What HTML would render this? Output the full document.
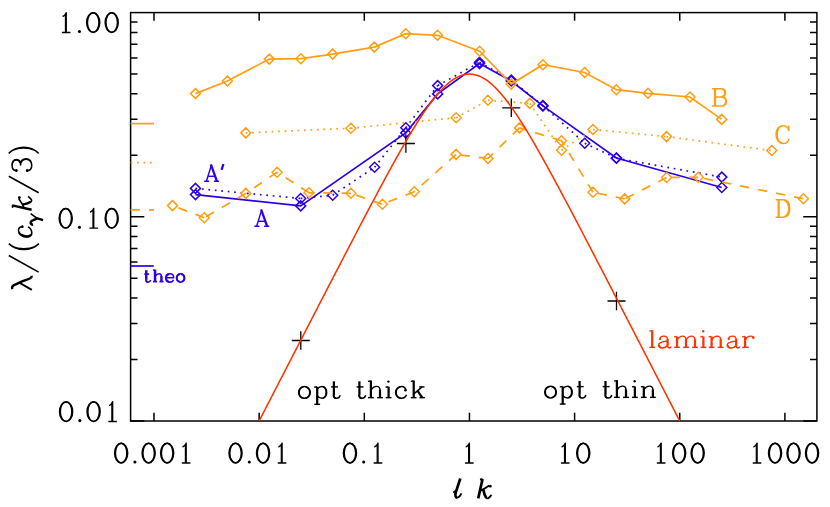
<!DOCTYPE html>
<html><head><meta charset="utf-8"><title>plot</title>
<style>
html,body{margin:0;padding:0;background:#fff;}
body{width:830px;height:507px;overflow:hidden;font-family:"Liberation Serif",serif;}
svg{display:block;}
</style></head><body>
<svg width="830" height="507" viewBox="0 0 830 507">
<rect width="830" height="507" fill="#fff"/>
<g stroke="#000" stroke-width="1.5" fill="none" stroke-linecap="butt">
<rect x="130.6" y="12.6" width="686.3" height="408.4"/>
<path d="M154 12.6v8.2 M154 421v-8.2"/>
<path d="M259.15 12.6v8.2 M259.15 421v-8.2"/>
<path d="M364.3 12.6v8.2 M364.3 421v-8.2"/>
<path d="M469.45 12.6v8.2 M469.45 421v-8.2"/>
<path d="M574.6 12.6v8.2 M574.6 421v-8.2"/>
<path d="M679.75 12.6v8.2 M679.75 421v-8.2"/>
<path d="M784.9 12.6v8.2 M784.9 421v-8.2"/>
<path d="M130.6 216.8h13.7 M816.9 216.8h-13.7"/>
<path d="M130.6 421h13.7 M816.9 421h-13.7"/>
<path d="M130.6 155.33h6.9 M816.9 155.33h-6.9"/>
<path d="M130.6 119.37h6.9 M816.9 119.37h-6.9"/>
<path d="M130.6 93.86h6.9 M816.9 93.86h-6.9"/>
<path d="M130.6 74.07h6.9 M816.9 74.07h-6.9"/>
<path d="M130.6 57.9h6.9 M816.9 57.9h-6.9"/>
<path d="M130.6 44.23h6.9 M816.9 44.23h-6.9"/>
<path d="M130.6 32.39h6.9 M816.9 32.39h-6.9"/>
<path d="M130.6 21.94h6.9 M816.9 21.94h-6.9"/>
<path d="M130.6 359.53h6.9 M816.9 359.53h-6.9"/>
<path d="M130.6 323.57h6.9 M816.9 323.57h-6.9"/>
<path d="M130.6 298.06h6.9 M816.9 298.06h-6.9"/>
<path d="M130.6 278.27h6.9 M816.9 278.27h-6.9"/>
<path d="M130.6 262.1h6.9 M816.9 262.1h-6.9"/>
<path d="M130.6 248.43h6.9 M816.9 248.43h-6.9"/>
<path d="M130.6 236.59h6.9 M816.9 236.59h-6.9"/>
<path d="M130.6 226.14h6.9 M816.9 226.14h-6.9"/>
</g>
<path d="M130.6 123.6H154" stroke="#FF9E14" stroke-width="1.7"/>
<path d="M130.6 162.6H154" stroke="#FF9E14" stroke-width="1.7" stroke-dasharray="1.7 4.77"/>
<path d="M130.6 209.9H154" stroke="#FF9E14" stroke-width="1.7" stroke-dasharray="9.3 9.1"/>
<path d="M130.6 266H153.8" stroke="#2E00E4" stroke-width="1.7"/>
<path d="M195.5 194.6 L300.7 205.9 L405.8 132.9 L437.7 93.9 L479.5 63.6 L511.3 81 L542.9 105.9 L616.4 158 L721.8 187.5" fill="none" stroke="#2E00E4" stroke-width="1.7"/>
<path d="M190.5 194.6l5 -5l5 5l-5 5zM295.7 205.9l5 -5l5 5l-5 5zM400.8 132.9l5 -5l5 5l-5 5zM432.7 93.9l5 -5l5 5l-5 5zM474.5 63.6l5 -5l5 5l-5 5zM506.3 81l5 -5l5 5l-5 5zM537.9 105.9l5 -5l5 5l-5 5zM611.4 158l5 -5l5 5l-5 5zM716.8 187.5l5 -5l5 5l-5 5z" fill="none" stroke="#2E00E4" stroke-width="1.5" stroke-linejoin="miter"/>
<path d="M195.5 188.4L300.7 198.5M300.7 198.5L332.7 195.2M332.7 195.2L374.6 167.3M374.6 167.3L405.8 127.8M405.8 127.8L437.7 85.6M437.7 85.6L479.5 62.3M479.5 62.3L511.3 80M511.3 80L542.9 105.6M542.9 105.6L584.7 143.3M584.7 143.3L616.4 158.2M616.4 158.2L721.8 177.1" fill="none" stroke="#2E00E4" stroke-width="1.7" stroke-dasharray="1.7 4.77"/>
<path d="M190.5 188.4l5 -5l5 5l-5 5zM295.7 198.5l5 -5l5 5l-5 5zM327.7 195.2l5 -5l5 5l-5 5zM369.6 167.3l5 -5l5 5l-5 5zM400.8 127.8l5 -5l5 5l-5 5zM432.7 85.6l5 -5l5 5l-5 5zM474.5 62.3l5 -5l5 5l-5 5zM506.3 80l5 -5l5 5l-5 5zM537.9 105.6l5 -5l5 5l-5 5zM579.7 143.3l5 -5l5 5l-5 5zM611.4 158.2l5 -5l5 5l-5 5zM716.8 177.1l5 -5l5 5l-5 5z" fill="none" stroke="#2E00E4" stroke-width="1.5" stroke-linejoin="miter"/>
<path d="M195.5 93.6 L227.4 81 L269.3 59.1 L300.9 58.7 L332.7 54.1 L374.3 47.1 L405.8 33.7 L437.5 35.3 L479.6 51.2 L511.2 84.1 L542.9 64.7 L584.65 72.5 L616.4 89.7 L648 93.3 L690 97 L721.7 119.4" fill="none" stroke="#FF9E14" stroke-width="1.7"/>
<path d="M190.5 93.6l5 -5l5 5l-5 5zM222.4 81l5 -5l5 5l-5 5zM264.3 59.1l5 -5l5 5l-5 5zM295.9 58.7l5 -5l5 5l-5 5zM327.7 54.1l5 -5l5 5l-5 5zM369.3 47.1l5 -5l5 5l-5 5zM400.8 33.7l5 -5l5 5l-5 5zM432.5 35.3l5 -5l5 5l-5 5zM474.6 51.2l5 -5l5 5l-5 5zM506.2 84.1l5 -5l5 5l-5 5zM537.9 64.7l5 -5l5 5l-5 5zM579.65 72.5l5 -5l5 5l-5 5zM611.4 89.7l5 -5l5 5l-5 5zM643 93.3l5 -5l5 5l-5 5zM685 97l5 -5l5 5l-5 5zM716.7 119.4l5 -5l5 5l-5 5z" fill="none" stroke="#FF9E14" stroke-width="1.5" stroke-linejoin="miter"/>
<path d="M245.8 132.9L350.9 128.2M350.9 128.2L456.2 117.7M456.2 117.7L487.9 100.2M487.9 100.2L529.8 103.4M529.8 103.4L561.5 150.2M561.5 150.2L593 129.5M593 129.5L666.5 136.6M666.5 136.6L771.75 150.55" fill="none" stroke="#FF9E14" stroke-width="1.7" stroke-dasharray="1.7 4.77"/>
<path d="M240.8 132.9l5 -5l5 5l-5 5zM345.9 128.2l5 -5l5 5l-5 5zM451.2 117.7l5 -5l5 5l-5 5zM482.9 100.2l5 -5l5 5l-5 5zM524.8 103.4l5 -5l5 5l-5 5zM556.5 150.2l5 -5l5 5l-5 5zM588 129.5l5 -5l5 5l-5 5zM661.5 136.6l5 -5l5 5l-5 5zM766.75 150.55l5 -5l5 5l-5 5z" fill="none" stroke="#FF9E14" stroke-width="1.5" stroke-linejoin="miter"/>
<path d="M204.3 217.7L172.5 205.6M245.8 193.4L204.3 217.7M277.1 172.2L245.8 193.4M309 192.8L277.1 172.2M350.9 193.3L309 192.8M382.4 204.2L350.9 193.3M414.3 191.7L382.4 204.2M456.1 154.4L414.3 191.7M488 158.5L456.1 154.4M519.5 127.9L488 158.5M561.5 140.7L519.5 127.9M593 192.3L561.5 140.7M624.7 198.9L593 192.3M666.6 177.5L624.7 198.9M698.3 177.3L666.6 177.5M803.3 198.7L698.3 177.3" fill="none" stroke="#FF9E14" stroke-width="1.7" stroke-dasharray="9.3 9.1"/>
<path d="M167.5 205.6l5 -5l5 5l-5 5zM199.3 217.7l5 -5l5 5l-5 5zM240.8 193.4l5 -5l5 5l-5 5zM272.1 172.2l5 -5l5 5l-5 5zM304 192.8l5 -5l5 5l-5 5zM345.9 193.3l5 -5l5 5l-5 5zM377.4 204.2l5 -5l5 5l-5 5zM409.3 191.7l5 -5l5 5l-5 5zM451.1 154.4l5 -5l5 5l-5 5zM483 158.5l5 -5l5 5l-5 5zM514.5 127.9l5 -5l5 5l-5 5zM556.5 140.7l5 -5l5 5l-5 5zM588 192.3l5 -5l5 5l-5 5zM619.7 198.9l5 -5l5 5l-5 5zM661.6 177.5l5 -5l5 5l-5 5zM693.3 177.3l5 -5l5 5l-5 5zM798.3 198.7l5 -5l5 5l-5 5z" fill="none" stroke="#FF9E14" stroke-width="1.5" stroke-linejoin="miter"/>
<path d="M291.8 340.5h18 M300.8 331.2v18.6M396.9 143.5h18 M405.9 134.2v18.6M502.3 107.8h18 M511.3 98.5v18.6M607.5 301h18 M616.5 291.7v18.6" stroke="#000" stroke-width="1.3" fill="none"/>
<path d="M259.15 421.01 L260.2 418.97 L261.25 416.93 L262.3 414.88 L263.36 412.84 L264.41 410.8 L265.46 408.76 L266.51 406.72 L267.56 404.68 L268.61 402.64 L269.67 400.59 L270.72 398.55 L271.77 396.51 L272.82 394.47 L273.87 392.43 L274.92 390.39 L275.97 388.35 L277.03 386.31 L278.08 384.26 L279.13 382.22 L280.18 380.18 L281.23 378.14 L282.28 376.1 L283.33 374.06 L284.39 372.02 L285.44 369.98 L286.49 367.94 L287.54 365.9 L288.59 363.86 L289.64 361.82 L290.7 359.78 L291.75 357.73 L292.8 355.69 L293.85 353.65 L294.9 351.61 L295.95 349.57 L297 347.53 L298.06 345.49 L299.11 343.46 L300.16 341.42 L301.21 339.38 L302.26 337.34 L303.31 335.3 L304.36 333.26 L305.42 331.22 L306.47 329.18 L307.52 327.14 L308.57 325.1 L309.62 323.06 L310.67 321.03 L311.73 318.99 L312.78 316.95 L313.83 314.91 L314.88 312.88 L315.93 310.84 L316.98 308.8 L318.03 306.76 L319.09 304.73 L320.14 302.69 L321.19 300.66 L322.24 298.62 L323.29 296.59 L324.34 294.55 L325.39 292.52 L326.45 290.48 L327.5 288.45 L328.55 286.41 L329.6 284.38 L330.65 282.35 L331.7 280.31 L332.75 278.28 L333.81 276.25 L334.86 274.22 L335.91 272.19 L336.96 270.16 L338.01 268.13 L339.06 266.1 L340.12 264.07 L341.17 262.05 L342.22 260.02 L343.27 257.99 L344.32 255.97 L345.37 253.94 L346.42 251.92 L347.48 249.9 L348.53 247.87 L349.58 245.85 L350.63 243.83 L351.68 241.81 L352.73 239.79 L353.78 237.78 L354.84 235.76 L355.89 233.75 L356.94 231.73 L357.99 229.72 L359.04 227.71 L360.09 225.7 L361.15 223.7 L362.2 221.69 L363.25 219.68 L364.3 217.68 L365.35 215.68 L366.4 213.68 L367.45 211.69 L368.51 209.69 L369.56 207.7 L370.61 205.71 L371.66 203.72 L372.71 201.74 L373.76 199.75 L374.82 197.77 L375.87 195.8 L376.92 193.82 L377.97 191.85 L379.02 189.89 L380.07 187.92 L381.12 185.96 L382.18 184.01 L383.23 182.05 L384.28 180.1 L385.33 178.16 L386.38 176.22 L387.43 174.29 L388.48 172.36 L389.54 170.43 L390.59 168.51 L391.64 166.6 L392.69 164.69 L393.74 162.79 L394.79 160.89 L395.85 159 L396.9 157.12 L397.95 155.25 L399 153.38 L400.05 151.52 L401.1 149.67 L402.15 147.82 L403.21 145.99 L404.26 144.17 L405.31 142.35 L406.36 140.55 L407.41 138.75 L408.46 136.97 L409.51 135.2 L410.57 133.44 L411.62 131.69 L412.67 129.95 L413.72 128.23 L414.77 126.52 L415.82 124.83 L416.88 123.15 L417.93 121.49 L418.98 119.84 L420.03 118.21 L421.08 116.6 L422.13 115.01 L423.18 113.43 L424.24 111.87 L425.29 110.34 L426.34 108.82 L427.39 107.33 L428.44 105.85 L429.49 104.41 L430.54 102.98 L431.6 101.58 L432.65 100.2 L433.7 98.85 L434.75 97.53 L435.8 96.24 L436.85 94.97 L437.91 93.73 L438.96 92.53 L440.01 91.35 L441.06 90.21 L442.11 89.1 L443.16 88.02 L444.21 86.97 L445.27 85.97 L446.32 84.99 L447.37 84.06 L448.42 83.16 L449.47 82.3 L450.52 81.48 L451.57 80.7 L452.63 79.96 L453.68 79.26 L454.73 78.6 L455.78 77.99 L456.83 77.41 L457.88 76.89 L458.94 76.4 L459.99 75.96 L461.04 75.57 L462.09 75.22 L463.14 74.91 L464.19 74.66 L465.24 74.45 L466.3 74.28 L467.35 74.16 L468.4 74.09 L469.45 74.07 L470.5 74.09 L471.55 74.16 L472.6 74.28 L473.66 74.45 L474.71 74.66 L475.76 74.91 L476.81 75.22 L477.86 75.57 L478.91 75.96 L479.97 76.4 L481.02 76.89 L482.07 77.41 L483.12 77.99 L484.17 78.6 L485.22 79.26 L486.27 79.96 L487.33 80.7 L488.38 81.48 L489.43 82.3 L490.48 83.16 L491.53 84.06 L492.58 84.99 L493.63 85.97 L494.69 86.97 L495.74 88.02 L496.79 89.1 L497.84 90.21 L498.89 91.35 L499.94 92.53 L501 93.73 L502.05 94.97 L503.1 96.24 L504.15 97.53 L505.2 98.85 L506.25 100.2 L507.3 101.58 L508.36 102.98 L509.41 104.41 L510.46 105.85 L511.51 107.33 L512.56 108.82 L513.61 110.34 L514.66 111.87 L515.72 113.43 L516.77 115.01 L517.82 116.6 L518.87 118.21 L519.92 119.84 L520.97 121.49 L522.03 123.15 L523.08 124.83 L524.13 126.52 L525.18 128.23 L526.23 129.95 L527.28 131.69 L528.33 133.44 L529.39 135.2 L530.44 136.97 L531.49 138.75 L532.54 140.55 L533.59 142.35 L534.64 144.17 L535.69 145.99 L536.75 147.82 L537.8 149.67 L538.85 151.52 L539.9 153.38 L540.95 155.25 L542 157.12 L543.06 159 L544.11 160.89 L545.16 162.79 L546.21 164.69 L547.26 166.6 L548.31 168.51 L549.36 170.43 L550.42 172.36 L551.47 174.29 L552.52 176.22 L553.57 178.16 L554.62 180.1 L555.67 182.05 L556.72 184.01 L557.78 185.96 L558.83 187.92 L559.88 189.89 L560.93 191.85 L561.98 193.82 L563.03 195.8 L564.09 197.77 L565.14 199.75 L566.19 201.74 L567.24 203.72 L568.29 205.71 L569.34 207.7 L570.39 209.69 L571.45 211.69 L572.5 213.68 L573.55 215.68 L574.6 217.68 L575.65 219.68 L576.7 221.69 L577.75 223.7 L578.81 225.7 L579.86 227.71 L580.91 229.72 L581.96 231.73 L583.01 233.75 L584.06 235.76 L585.12 237.78 L586.17 239.79 L587.22 241.81 L588.27 243.83 L589.32 245.85 L590.37 247.87 L591.42 249.9 L592.48 251.92 L593.53 253.94 L594.58 255.97 L595.63 257.99 L596.68 260.02 L597.73 262.05 L598.78 264.07 L599.84 266.1 L600.89 268.13 L601.94 270.16 L602.99 272.19 L604.04 274.22 L605.09 276.25 L606.14 278.28 L607.2 280.31 L608.25 282.35 L609.3 284.38 L610.35 286.41 L611.4 288.45 L612.45 290.48 L613.51 292.52 L614.56 294.55 L615.61 296.59 L616.66 298.62 L617.71 300.66 L618.76 302.69 L619.81 304.73 L620.87 306.76 L621.92 308.8 L622.97 310.84 L624.02 312.88 L625.07 314.91 L626.12 316.95 L627.17 318.99 L628.23 321.03 L629.28 323.06 L630.33 325.1 L631.38 327.14 L632.43 329.18 L633.48 331.22 L634.54 333.26 L635.59 335.3 L636.64 337.34 L637.69 339.38 L638.74 341.42 L639.79 343.46 L640.84 345.49 L641.9 347.53 L642.95 349.57 L644 351.61 L645.05 353.65 L646.1 355.69 L647.15 357.73 L648.21 359.78 L649.26 361.82 L650.31 363.86 L651.36 365.9 L652.41 367.94 L653.46 369.98 L654.51 372.02 L655.57 374.06 L656.62 376.1 L657.67 378.14 L658.72 380.18 L659.77 382.22 L660.82 384.26 L661.87 386.31 L662.93 388.35 L663.98 390.39 L665.03 392.43 L666.08 394.47 L667.13 396.51 L668.18 398.55 L669.24 400.59 L670.29 402.64 L671.34 404.68 L672.39 406.72 L673.44 408.76 L674.49 410.8 L675.54 412.84 L676.6 414.88 L677.65 416.93 L678.7 418.97 L679.75 421.01" fill="none" stroke="#FF3300" stroke-width="1.55" stroke-linecap="butt"/>
<g stroke="#000" stroke-width="1.45" fill="none" stroke-linecap="butt" stroke-linejoin="round">
<path d="M62.6 16.5q2.6 -0.8 3.6 -3.8V32.4 M61.9 32.4h8.6"/><path d="M65.45 14.1V32.4" stroke-width="1.2"/><circle cx="79.45" cy="31.5" r="1.55" fill="#000" stroke="none"/><ellipse cx="93.2" cy="22.55" rx="6.55" ry="9.85"/><ellipse cx="93.2" cy="22.55" rx="5.75" ry="9.75"/><ellipse cx="111.7" cy="22.55" rx="6.55" ry="9.85"/><ellipse cx="111.7" cy="22.55" rx="5.75" ry="9.75"/>
<ellipse cx="65.7" cy="218.25" rx="6.55" ry="9.85"/><ellipse cx="65.7" cy="218.25" rx="5.75" ry="9.75"/><circle cx="79.45" cy="227.2" r="1.55" fill="#000" stroke="none"/><path d="M90.1 212.2q2.6 -0.8 3.6 -3.8V228.1 M89.4 228.1h8.6"/><path d="M92.95 209.8V228.1" stroke-width="1.2"/><ellipse cx="111.7" cy="218.25" rx="6.55" ry="9.85"/><ellipse cx="111.7" cy="218.25" rx="5.75" ry="9.75"/>
<ellipse cx="66.1" cy="411.65" rx="6.55" ry="9.85"/><ellipse cx="66.1" cy="411.65" rx="5.75" ry="9.75"/><circle cx="79.85" cy="420.6" r="1.55" fill="#000" stroke="none"/><ellipse cx="93.6" cy="411.65" rx="6.55" ry="9.85"/><ellipse cx="93.6" cy="411.65" rx="5.75" ry="9.75"/><path d="M109 405.6q2.6 -0.8 3.6 -3.8V421.5 M108.3 421.5h8.6"/><path d="M111.85 403.2V421.5" stroke-width="1.2"/>
<ellipse cx="121.15" cy="453.05" rx="6.55" ry="9.85"/><ellipse cx="121.15" cy="453.05" rx="5.75" ry="9.75"/><circle cx="134.9" cy="462" r="1.55" fill="#000" stroke="none"/><ellipse cx="148.65" cy="453.05" rx="6.55" ry="9.85"/><ellipse cx="148.65" cy="453.05" rx="5.75" ry="9.75"/><ellipse cx="167.15" cy="453.05" rx="6.55" ry="9.85"/><ellipse cx="167.15" cy="453.05" rx="5.75" ry="9.75"/><path d="M182.55 447q2.6 -0.8 3.6 -3.8V462.9 M181.85 462.9h8.6"/><path d="M185.4 444.6V462.9" stroke-width="1.2"/>
<ellipse cx="235.55" cy="453.05" rx="6.55" ry="9.85"/><ellipse cx="235.55" cy="453.05" rx="5.75" ry="9.75"/><circle cx="249.3" cy="462" r="1.55" fill="#000" stroke="none"/><ellipse cx="263.05" cy="453.05" rx="6.55" ry="9.85"/><ellipse cx="263.05" cy="453.05" rx="5.75" ry="9.75"/><path d="M278.45 447q2.6 -0.8 3.6 -3.8V462.9 M277.75 462.9h8.6"/><path d="M281.3 444.6V462.9" stroke-width="1.2"/>
<ellipse cx="349.95" cy="453.05" rx="6.55" ry="9.85"/><ellipse cx="349.95" cy="453.05" rx="5.75" ry="9.75"/><circle cx="363.7" cy="462" r="1.55" fill="#000" stroke="none"/><path d="M374.35 447q2.6 -0.8 3.6 -3.8V462.9 M373.65 462.9h8.6"/><path d="M377.2 444.6V462.9" stroke-width="1.2"/>
<path d="M465.75 447q2.6 -0.8 3.6 -3.8V462.9 M465.05 462.9h8.6"/><path d="M468.6 444.6V462.9" stroke-width="1.2"/>
<path d="M561.65 447q2.6 -0.8 3.6 -3.8V462.9 M560.95 462.9h8.6"/><path d="M564.5 444.6V462.9" stroke-width="1.2"/><ellipse cx="583.25" cy="453.05" rx="6.55" ry="9.85"/><ellipse cx="583.25" cy="453.05" rx="5.75" ry="9.75"/>
<path d="M657.55 447q2.6 -0.8 3.6 -3.8V462.9 M656.85 462.9h8.6"/><path d="M660.4 444.6V462.9" stroke-width="1.2"/><ellipse cx="679.15" cy="453.05" rx="6.55" ry="9.85"/><ellipse cx="679.15" cy="453.05" rx="5.75" ry="9.75"/><ellipse cx="697.65" cy="453.05" rx="6.55" ry="9.85"/><ellipse cx="697.65" cy="453.05" rx="5.75" ry="9.75"/>
<path d="M753.45 447q2.6 -0.8 3.6 -3.8V462.9 M752.75 462.9h8.6"/><path d="M756.3 444.6V462.9" stroke-width="1.2"/><ellipse cx="775.05" cy="453.05" rx="6.55" ry="9.85"/><ellipse cx="775.05" cy="453.05" rx="5.75" ry="9.75"/><ellipse cx="793.55" cy="453.05" rx="6.55" ry="9.85"/><ellipse cx="793.55" cy="453.05" rx="5.75" ry="9.75"/><ellipse cx="812.05" cy="453.05" rx="6.55" ry="9.85"/><ellipse cx="812.05" cy="453.05" rx="5.75" ry="9.75"/>
</g>
<g transform="translate(297.9 398.3)" fill="none" stroke="#000" stroke-linecap="butt" stroke-linejoin="round">
<g stroke-width="1.45"><path transform="translate(0 0)" d="M6.55 -11.85C9.9 -11.85 12.4 -9.3 12.4 -5.9C12.4 -2.5 9.9 0.05 6.55 0.05C3.2 0.05 0.7 -2.5 0.7 -5.9C0.7 -9.3 3.2 -11.85 6.55 -11.85Z"/><path transform="translate(0 0)" d="M5.6 -11.4C3.1 -10.8 1.3 -8.7 1.3 -5.9C1.3 -3.1 3.1 -1 5.6 -0.4"/><path transform="translate(0 0)" d="M7.5 -11.4C10 -10.8 11.8 -8.7 11.8 -5.9C11.8 -3.1 10 -1 7.5 -0.4"/><path transform="translate(16.1 0)" d="M0.30000000000000027 -11.1L3.0 -11.55"/><path transform="translate(16.1 0)" d="M0.30000000000000027 6.05H6.1"/><path transform="translate(16.1 0)" d="M3.2 -9.3C4.7 -11.1 6.2 -11.85 8 -11.85C10.8 -11.85 12.7 -9.3 12.7 -5.9C12.7 -2.5 10.8 0.05 8 0.05C6.2 0.05 4.7 -0.7 3.2 -2.5"/><path transform="translate(16.1 0)" d="M8.8 -11.5C10.8 -11.0 12.1 -8.8 12.1 -5.9C12.1 -3.0 10.8 -0.8 8.8 -0.3"/><path transform="translate(32.8 0)" d="M3.2 -3.4C3.2 -1.1 4.2 0.05 5.9 0.05C7.6 0.05 8.9 -1 9.5 -3.0"/><path transform="translate(32.8 0)" d="M2.6 -3.4C2.7 -1.5 3.6 -0.3 5.0 -0.05"/><path transform="translate(32.8 0)" d="M0.4 -11.4H7.3"/><path transform="translate(58.3 0)" d="M3.2 -3.4C3.2 -1.1 4.2 0.05 5.9 0.05C7.6 0.05 8.9 -1 9.5 -3.0"/><path transform="translate(58.3 0)" d="M2.6 -3.4C2.7 -1.5 3.6 -0.3 5.0 -0.05"/><path transform="translate(58.3 0)" d="M0.4 -11.4H7.3"/><path transform="translate(69.8 0)" d="M0.30000000000000027 -16.900000000000002L3.0 -17.35"/><path transform="translate(69.8 0)" d="M0.30000000000000027 -0.65H6.1"/><path transform="translate(69.8 0)" d="M3.2 -8.2C4.9 -10.8 6.8 -11.9 8.9 -11.9C11.2 -11.9 12.3 -10.6 12.3 -8.0"/><path transform="translate(69.8 0)" d="M9.4 -0.65H15.200000000000001"/><path transform="translate(87.5 0)" d="M0.30000000000000027 -11.1L3.0 -11.55"/><path transform="translate(87.5 0)" d="M0.30000000000000027 -0.65H6.1"/><path transform="translate(97 0)" d="M11.1 -7.6C10.8 -10.3 8.9 -11.85 6.6 -11.85C3.2 -11.85 0.7 -9.3 0.7 -5.9C0.7 -2.5 3.2 0.05 6.6 0.05C9.0 0.05 10.8 -1.2 11.6 -3.5"/><path transform="translate(97 0)" d="M5.7 -11.4C3.1 -10.8 1.3 -8.7 1.3 -5.9C1.3 -3.1 3.1 -1 5.7 -0.4"/><path transform="translate(112.6 0)" d="M0.30000000000000027 -16.900000000000002L3.0 -17.35"/><path transform="translate(112.6 0)" d="M0.30000000000000027 -0.65H6.1"/><path transform="translate(112.6 0)" d="M11.6 -11.4L3.4 -4.4"/><path transform="translate(112.6 0)" d="M8.7 -11.4H14.0"/><path transform="translate(112.6 0)" d="M8.9 -0.65H14.3"/></g>
<g stroke-width="2.25"><path transform="translate(16.1 0)" d="M3.2 -11.5V6.1"/><path transform="translate(32.8 0)" d="M3.2 -17.0V-3.2"/><path transform="translate(58.3 0)" d="M3.2 -17.0V-3.2"/><path transform="translate(69.8 0)" d="M3.2 -17.8V-0.65"/><path transform="translate(69.8 0)" d="M12.3 -8.6V-0.65"/><path transform="translate(87.5 0)" d="M3.2 -11.5V-0.65"/><path transform="translate(112.6 0)" d="M3.2 -17.8V-0.65"/><path transform="translate(112.6 0)" d="M6.9 -7.6L11.7 -0.7"/></g>
<g stroke="none" fill="#000"><path transform="translate(87.5 0)" d="M3.0 -17.9A1.2 1.2 0 1 0 3.0 -15.5A1.2 1.2 0 1 0 3.0 -17.9Z"/><path transform="translate(97 0)" d="M10.5 -9.3A1.25 1.25 0 1 0 10.5 -6.8A1.25 1.25 0 1 0 10.5 -9.3Z"/></g>
</g>
<g transform="translate(544 398)" fill="none" stroke="#000" stroke-linecap="butt" stroke-linejoin="round">
<g stroke-width="1.45"><path transform="translate(0 0)" d="M6.55 -11.85C9.9 -11.85 12.4 -9.3 12.4 -5.9C12.4 -2.5 9.9 0.05 6.55 0.05C3.2 0.05 0.7 -2.5 0.7 -5.9C0.7 -9.3 3.2 -11.85 6.55 -11.85Z"/><path transform="translate(0 0)" d="M5.6 -11.4C3.1 -10.8 1.3 -8.7 1.3 -5.9C1.3 -3.1 3.1 -1 5.6 -0.4"/><path transform="translate(0 0)" d="M7.5 -11.4C10 -10.8 11.8 -8.7 11.8 -5.9C11.8 -3.1 10 -1 7.5 -0.4"/><path transform="translate(15.5 0)" d="M0.30000000000000027 -11.1L3.0 -11.55"/><path transform="translate(15.5 0)" d="M0.30000000000000027 6.05H6.1"/><path transform="translate(15.5 0)" d="M3.2 -9.3C4.7 -11.1 6.2 -11.85 8 -11.85C10.8 -11.85 12.7 -9.3 12.7 -5.9C12.7 -2.5 10.8 0.05 8 0.05C6.2 0.05 4.7 -0.7 3.2 -2.5"/><path transform="translate(15.5 0)" d="M8.8 -11.5C10.8 -11.0 12.1 -8.8 12.1 -5.9C12.1 -3.0 10.8 -0.8 8.8 -0.3"/><path transform="translate(32.4 0)" d="M3.2 -3.4C3.2 -1.1 4.2 0.05 5.9 0.05C7.6 0.05 8.9 -1 9.5 -3.0"/><path transform="translate(32.4 0)" d="M2.6 -3.4C2.7 -1.5 3.6 -0.3 5.0 -0.05"/><path transform="translate(32.4 0)" d="M0.4 -11.4H7.3"/><path transform="translate(58.3 0)" d="M3.2 -3.4C3.2 -1.1 4.2 0.05 5.9 0.05C7.6 0.05 8.9 -1 9.5 -3.0"/><path transform="translate(58.3 0)" d="M2.6 -3.4C2.7 -1.5 3.6 -0.3 5.0 -0.05"/><path transform="translate(58.3 0)" d="M0.4 -11.4H7.3"/><path transform="translate(69.7 0)" d="M0.30000000000000027 -16.900000000000002L3.0 -17.35"/><path transform="translate(69.7 0)" d="M0.30000000000000027 -0.65H6.1"/><path transform="translate(69.7 0)" d="M3.2 -8.2C4.9 -10.8 6.8 -11.9 8.9 -11.9C11.2 -11.9 12.3 -10.6 12.3 -8.0"/><path transform="translate(69.7 0)" d="M9.4 -0.65H15.200000000000001"/><path transform="translate(87.7 0)" d="M0.30000000000000027 -11.1L3.0 -11.55"/><path transform="translate(87.7 0)" d="M0.30000000000000027 -0.65H6.1"/><path transform="translate(96.6 0)" d="M0.30000000000000027 -11.1L3.0 -11.55"/><path transform="translate(96.6 0)" d="M0.30000000000000027 -0.65H6.1"/><path transform="translate(96.6 0)" d="M3.2 -8.2C4.9 -10.8 6.8 -11.9 8.9 -11.9C11.2 -11.9 12.3 -10.6 12.3 -8.0"/><path transform="translate(96.6 0)" d="M9.4 -0.65H15.200000000000001"/></g>
<g stroke-width="2.25"><path transform="translate(15.5 0)" d="M3.2 -11.5V6.1"/><path transform="translate(32.4 0)" d="M3.2 -17.0V-3.2"/><path transform="translate(58.3 0)" d="M3.2 -17.0V-3.2"/><path transform="translate(69.7 0)" d="M3.2 -17.8V-0.65"/><path transform="translate(69.7 0)" d="M12.3 -8.6V-0.65"/><path transform="translate(87.7 0)" d="M3.2 -11.5V-0.65"/><path transform="translate(96.6 0)" d="M3.2 -11.5V-0.65"/><path transform="translate(96.6 0)" d="M12.3 -8.6V-0.65"/></g>
<g stroke="none" fill="#000"><path transform="translate(87.7 0)" d="M3.0 -17.9A1.2 1.2 0 1 0 3.0 -15.5A1.2 1.2 0 1 0 3.0 -17.9Z"/></g>
</g>
<g transform="translate(649 348)" fill="none" stroke="#FF3300" stroke-linecap="butt" stroke-linejoin="round">
<g stroke-width="1.45"><path transform="translate(0 0)" d="M0.30000000000000027 -16.900000000000002L3.0 -17.35"/><path transform="translate(0 0)" d="M0.30000000000000027 -0.65H6.1"/><path transform="translate(8.8 0)" d="M2.2 -9.0C2.2 -10.9 3.9 -11.9 6.0 -11.9C8.6 -11.9 9.8 -10.7 9.8 -8.4"/><path transform="translate(8.8 0)" d="M9.8 -2.8C9.8 -0.9 10.5 -0.05 11.6 -0.05C12.5 -0.05 13.1 -0.5 13.4 -1.4"/><path transform="translate(8.8 0)" d="M9.8 -7.0C5.5 -6.6 0.8 -5.9 0.8 -2.9C0.8 -1 2.2 0.05 4.2 0.05C6.5 0.05 8.6 -1.1 9.8 -2.9"/><path transform="translate(8.8 0)" d="M1.4 -2.9C1.4 -1.4 2.4 -0.5 4.0 -0.4"/><path transform="translate(25 0)" d="M0.10000000000000009 -11.1L2.8 -11.55"/><path transform="translate(25 0)" d="M0.10000000000000009 -0.65H5.9"/><path transform="translate(25 0)" d="M3.0 -8.2C4.7 -10.8 6.6 -11.9 8.5 -11.9C10.8 -11.9 12.0 -10.6 12.0 -8.0"/><path transform="translate(25 0)" d="M9.1 -0.65H14.9"/><path transform="translate(25 0)" d="M12.0 -8.2C13.7 -10.8 15.6 -11.9 17.5 -11.9C19.8 -11.9 21.0 -10.6 21.0 -8.0"/><path transform="translate(25 0)" d="M18.1 -0.65H23.9"/><path transform="translate(51.2 0)" d="M0.30000000000000027 -11.1L3.0 -11.55"/><path transform="translate(51.2 0)" d="M0.30000000000000027 -0.65H6.1"/><path transform="translate(59.4 0)" d="M0.30000000000000027 -11.1L3.0 -11.55"/><path transform="translate(59.4 0)" d="M0.30000000000000027 -0.65H6.1"/><path transform="translate(59.4 0)" d="M3.2 -8.2C4.9 -10.8 6.8 -11.9 8.9 -11.9C11.2 -11.9 12.3 -10.6 12.3 -8.0"/><path transform="translate(59.4 0)" d="M9.4 -0.65H15.200000000000001"/><path transform="translate(77.4 0)" d="M2.2 -9.0C2.2 -10.9 3.9 -11.9 6.0 -11.9C8.6 -11.9 9.8 -10.7 9.8 -8.4"/><path transform="translate(77.4 0)" d="M9.8 -2.8C9.8 -0.9 10.5 -0.05 11.6 -0.05C12.5 -0.05 13.1 -0.5 13.4 -1.4"/><path transform="translate(77.4 0)" d="M9.8 -7.0C5.5 -6.6 0.8 -5.9 0.8 -2.9C0.8 -1 2.2 0.05 4.2 0.05C6.5 0.05 8.6 -1.1 9.8 -2.9"/><path transform="translate(77.4 0)" d="M1.4 -2.9C1.4 -1.4 2.4 -0.5 4.0 -0.4"/><path transform="translate(92.9 0)" d="M0.30000000000000027 -11.1L3.0 -11.55"/><path transform="translate(92.9 0)" d="M0.30000000000000027 -0.65H6.800000000000001"/><path transform="translate(92.9 0)" d="M3.2 -7.4C4.2 -10.2 6.4 -11.9 8.8 -11.9C10.4 -11.9 11.5 -11.2 11.7 -10.2"/></g>
<g stroke-width="2.25"><path transform="translate(0 0)" d="M3.2 -17.8V-0.65"/><path transform="translate(8.8 0)" d="M9.8 -9.0V-2.6"/><path transform="translate(25 0)" d="M3.0 -11.5V-0.65"/><path transform="translate(25 0)" d="M12.0 -8.6V-0.65"/><path transform="translate(25 0)" d="M21.0 -8.6V-0.65"/><path transform="translate(51.2 0)" d="M3.2 -11.5V-0.65"/><path transform="translate(59.4 0)" d="M3.2 -11.5V-0.65"/><path transform="translate(59.4 0)" d="M12.3 -8.6V-0.65"/><path transform="translate(77.4 0)" d="M9.8 -9.0V-2.6"/><path transform="translate(92.9 0)" d="M3.2 -11.5V-0.65"/></g>
<g stroke="none" fill="#FF3300"><path transform="translate(8.8 0)" d="M2.3 -10.1A1.15 1.15 0 1 0 2.3 -7.8A1.15 1.15 0 1 0 2.3 -10.1Z"/><path transform="translate(51.2 0)" d="M3.0 -17.9A1.2 1.2 0 1 0 3.0 -15.5A1.2 1.2 0 1 0 3.0 -17.9Z"/><path transform="translate(77.4 0)" d="M2.3 -10.1A1.15 1.15 0 1 0 2.3 -7.8A1.15 1.15 0 1 0 2.3 -10.1Z"/><path transform="translate(92.9 0)" d="M11.4 -11.4A1.25 1.25 0 1 0 11.4 -8.9A1.25 1.25 0 1 0 11.4 -11.4Z"/></g>
</g>
<g transform="translate(144 282.1) scale(0.7)" fill="none" stroke="#2E00E4" stroke-linecap="butt" stroke-linejoin="round">
<g stroke-width="2.285714285714286"><path transform="translate(0 0)" d="M3.2 -3.4C3.2 -1.1 4.2 0.05 5.9 0.05C7.6 0.05 8.9 -1 9.5 -3.0"/><path transform="translate(0 0)" d="M2.6 -3.4C2.7 -1.5 3.6 -0.3 5.0 -0.05"/><path transform="translate(0 0)" d="M0.4 -11.4H7.3"/><path transform="translate(12.6 0)" d="M0.30000000000000027 -16.900000000000002L3.0 -17.35"/><path transform="translate(12.6 0)" d="M0.30000000000000027 -0.65H6.1"/><path transform="translate(12.6 0)" d="M3.2 -8.2C4.9 -10.8 6.8 -11.9 8.9 -11.9C11.2 -11.9 12.3 -10.6 12.3 -8.0"/><path transform="translate(12.6 0)" d="M9.4 -0.65H15.200000000000001"/><path transform="translate(30.4 0)" d="M1.0 -6.3H11.9C11.9 -9.6 9.9 -11.85 6.7 -11.85C3.2 -11.85 0.7 -9.3 0.7 -5.9C0.7 -2.5 3.2 0.05 6.7 0.05C9.1 0.05 10.9 -1.2 11.7 -3.4"/><path transform="translate(30.4 0)" d="M5.7 -11.4C3.1 -10.8 1.3 -8.7 1.3 -5.9C1.3 -3.1 3.1 -1 5.7 -0.4"/><path transform="translate(45.7 0)" d="M6.55 -11.85C9.9 -11.85 12.4 -9.3 12.4 -5.9C12.4 -2.5 9.9 0.05 6.55 0.05C3.2 0.05 0.7 -2.5 0.7 -5.9C0.7 -9.3 3.2 -11.85 6.55 -11.85Z"/><path transform="translate(45.7 0)" d="M5.6 -11.4C3.1 -10.8 1.3 -8.7 1.3 -5.9C1.3 -3.1 3.1 -1 5.6 -0.4"/><path transform="translate(45.7 0)" d="M7.5 -11.4C10 -10.8 11.8 -8.7 11.8 -5.9C11.8 -3.1 10 -1 7.5 -0.4"/></g>
<g stroke-width="3.5714285714285716"><path transform="translate(0 0)" d="M3.2 -17.0V-3.2"/><path transform="translate(12.6 0)" d="M3.2 -17.8V-0.65"/><path transform="translate(12.6 0)" d="M12.3 -8.6V-0.65"/></g>
</g>
<g transform="translate(203.9 181.9)" fill="none" stroke="#2E00E4" stroke-linecap="butt" stroke-linejoin="round">
<g stroke-width="1.45"><path transform="translate(0 0)" d="M7.5 -16.8L2.5 -0.65"/><path transform="translate(0 0)" d="M4.1 -5.6H11.1"/><path transform="translate(0 0)" d="M0.2 -0.65H5.3"/><path transform="translate(0 0)" d="M10.0 -0.65H15.2"/></g>
<g stroke-width="2.25"><path transform="translate(0 0)" d="M7.0 -17.5L13.0 -0.65"/><path transform="translate(16.5 0)" d="M3.0 -17.9L1.2 -12.0"/></g>
</g>
<g transform="translate(254.1 226.9)" fill="none" stroke="#2E00E4" stroke-linecap="butt" stroke-linejoin="round">
<g stroke-width="1.45"><path transform="translate(0 0)" d="M7.5 -16.8L2.5 -0.65"/><path transform="translate(0 0)" d="M4.1 -5.6H11.1"/><path transform="translate(0 0)" d="M0.2 -0.65H5.3"/><path transform="translate(0 0)" d="M10.0 -0.65H15.2"/></g>
<g stroke-width="2.25"><path transform="translate(0 0)" d="M7.0 -17.5L13.0 -0.65"/></g>
</g>
<g transform="translate(711.9 106.7)" fill="none" stroke="#FF9E14" stroke-linecap="butt" stroke-linejoin="round">
<g stroke-width="1.45"><path transform="translate(0 0)" d="M0.2 -18.05H9.2C12.2 -18.05 13.6 -16.3 13.6 -14.2C13.6 -12 12.2 -9.8 9.2 -9.8H3.1"/><path transform="translate(0 0)" d="M9.2 -9.8C12.8 -9.8 14.5 -8.1 14.5 -5.4C14.5 -2.6 12.8 -0.65 9.6 -0.65H0.2"/><path transform="translate(0 0)" d="M10.3 -17.6C12.2 -17.2 13.0 -15.8 13.0 -14.1C13.0 -12.4 12.2 -10.8 10.3 -10.2"/><path transform="translate(0 0)" d="M10.8 -9.7C13.0 -9.2 13.9 -7.5 13.9 -5.4C13.9 -3.2 13.0 -1.6 10.8 -1.1"/></g>
<g stroke-width="2.25"><path transform="translate(0 0)" d="M3.1 -18.05V-0.65"/></g>
</g>
<g transform="translate(775.1 143.7)" fill="none" stroke="#FF9E14" stroke-linecap="butt" stroke-linejoin="round">
<g stroke-width="1.45"><path transform="translate(0 0)" d="M13.7 -12.9C12.9 -16.6 11.0 -18.1 8.5 -18.1C4.0 -18.1 0.9 -14.6 0.9 -9.2C0.9 -3.8 4.0 -0.1 8.5 -0.1C11.1 -0.1 13.0 -1.6 14.0 -4.9"/><path transform="translate(0 0)" d="M7.4 -18.0C3.8 -17.3 1.6 -13.9 1.6 -9.2C1.6 -4.5 3.8 -1.2 7.4 -0.5"/><path transform="translate(0 0)" d="M2.0 -9.2C2.0 -6.5 2.6 -4.4 3.6 -3.0M2.0 -9.2C2.0 -11.9 2.6 -14.0 3.6 -15.4"/><path transform="translate(0 0)" d="M13.7 -18.2V-12.7"/></g>
</g>
<g transform="translate(775.5 217.85)" fill="none" stroke="#FF9E14" stroke-linecap="butt" stroke-linejoin="round">
<g stroke-width="1.45"><path transform="translate(0 0)" d="M0.2 -18.05H7.4C11.7 -18.05 14.2 -14.6 14.2 -9.35C14.2 -4.1 11.7 -0.65 7.4 -0.65H0.2"/><path transform="translate(0 0)" d="M8.6 -17.6C11.8 -16.9 13.6 -13.9 13.6 -9.35C13.6 -4.8 11.8 -1.8 8.6 -1.1"/><path transform="translate(0 0)" d="M13.1 -9.35C13.1 -5.6 12.0 -3.2 10.2 -1.9M13.1 -9.35C13.1 -13.1 12.0 -15.5 10.2 -16.8"/></g>
<g stroke-width="2.25"><path transform="translate(0 0)" d="M3.1 -18.05V-0.65"/></g>
</g>
<g fill="none" stroke="#000" stroke-linecap="butt" stroke-linejoin="round">
<path stroke-width="1.9" d="M480 479.5L482.6 479.1M480.3 490.6C483.6 489.6 486.5 487.4 489.3 485.5M486 497.4C486.8 498.7 488.1 498.7 489.1 497.6L491.5 494.9M453.2 492.5L455.8 490.9M456.4 497.6C458.4 497.9 460.1 496.1 461.4 493.3"/>
<path stroke-width="2.7" d="M482.55 479L478.2 498.4M483.3 489.4C483.9 492.8 484.9 495.8 486.2 497.7M460.3 478.5L455.7 492.6C455.0 495.2 455.4 497.5 457.1 497.6"/>
<path stroke="none" fill="#000" d="M490.3 484.7a1.45 1.45 0 1 0 0.01 0Z"/>
</g>
<g transform="translate(32.6 291) rotate(-90)">
<g fill="none" stroke="#000" stroke-linecap="butt" stroke-linejoin="round">
<path stroke-width="1.6" d="M83.1 -19.9L85.7 -20.3M83.4 -8.8C86.7 -9.8 89.6 -12 92.4 -13.9M89.1 -2C89.9 -0.7 91.2 -0.7 92.2 -1.8L94.6 -4.5M8.1 -13.3L0.9 -0.9M8.4 -13.0L1.3 -0.7M18.9 6.1L35.5 -23.8M98.2 6.1L114.7 -23.8M47.4 -23.8C43.3 -19.5 41.5 -14 41.5 -8.7C41.5 -3.4 43.3 2.1 47.4 6.3M44.3 -20.0C42.8 -16.4 42.2 -12.6 42.2 -8.7C42.2 -4.8 42.8 -1.0 44.3 2.6M137.7 -23.9C141.8 -19.6 143.7 -14.1 143.7 -8.9C143.7 -3.7 141.8 1.8 137.7 6.1M140.8 -20.1C142.3 -16.5 143.0 -12.7 143.0 -8.9C143.0 -5.1 142.3 -1.3 140.8 2.3M64.5 -9.9C64.3 -12.7 62.7 -14.1 60.6 -14.1C56.6 -14.1 53.9 -10.0 53.9 -5.5C53.9 -2.5 55.5 -0.8 58.0 -0.8C60.5 -0.8 62.6 -2.0 64.1 -4.5M58.9 -13.6C56.2 -12.4 54.5 -9.0 54.5 -5.5C54.5 -3.2 55.4 -1.7 57.0 -1.2M56.9 -11.6C55.6 -9.9 55.0 -7.8 55.0 -5.5C55.0 -4.0 55.4 -2.9 56.1 -2.2M77.4 -2.0L72.8 4.3M120.3 -16.4C120.4 -19.4 122.5 -20.5 125.5 -20.5C129.4 -20.5 131.5 -18.8 131.5 -16.2C131.5 -13.7 129.7 -12.0 126.0 -12.0C130.0 -12.0 132.2 -9.7 132.2 -6.4C132.2 -2.9 129.7 -0.9 125.8 -0.9C122.6 -0.9 120.5 -2.2 120.3 -5.2M128.3 -19.9C130.2 -19.3 131.0 -17.9 131.0 -16.2C131.0 -14.6 130.2 -13.2 128.3 -12.6M128.6 -11.4C130.8 -10.6 131.7 -8.8 131.7 -6.4C131.7 -4.0 130.8 -2.3 128.6 -1.5"/>
<path stroke-width="2.45" d="M85.65 -20.4L81.3 -1M86.4 -10C87 -6.6 88 -3.6 89.3 -1.7M2.0 -20.0C3.4 -20.9 4.8 -20.5 5.6 -19.0L8.6 -12.6C10.2 -8.8 11.4 -5.0 12.5 -2.8C13.2 -1.4 14.1 -0.8 15.3 -0.8M66.3 0.5C66.3 -1.2 67.2 -1.9 68.2 -1.9C69.5 -1.9 70.3 -0.8 70.8 0.6L72.7 5.0M72.9 3.9L70.9 10.5"/>
<path stroke="none" fill="#000" d="M93.4 -14.7a1.45 1.45 0 1 0 0.01 0ZM64.3 -11.7a1.4 1.4 0 1 0 0.01 0ZM120.5 -17.6a1.4 1.4 0 1 0 0.01 0ZM120.5 -6.8a1.4 1.4 0 1 0 0.01 0Z"/>
</g>
</g>
</svg>
</body></html>
